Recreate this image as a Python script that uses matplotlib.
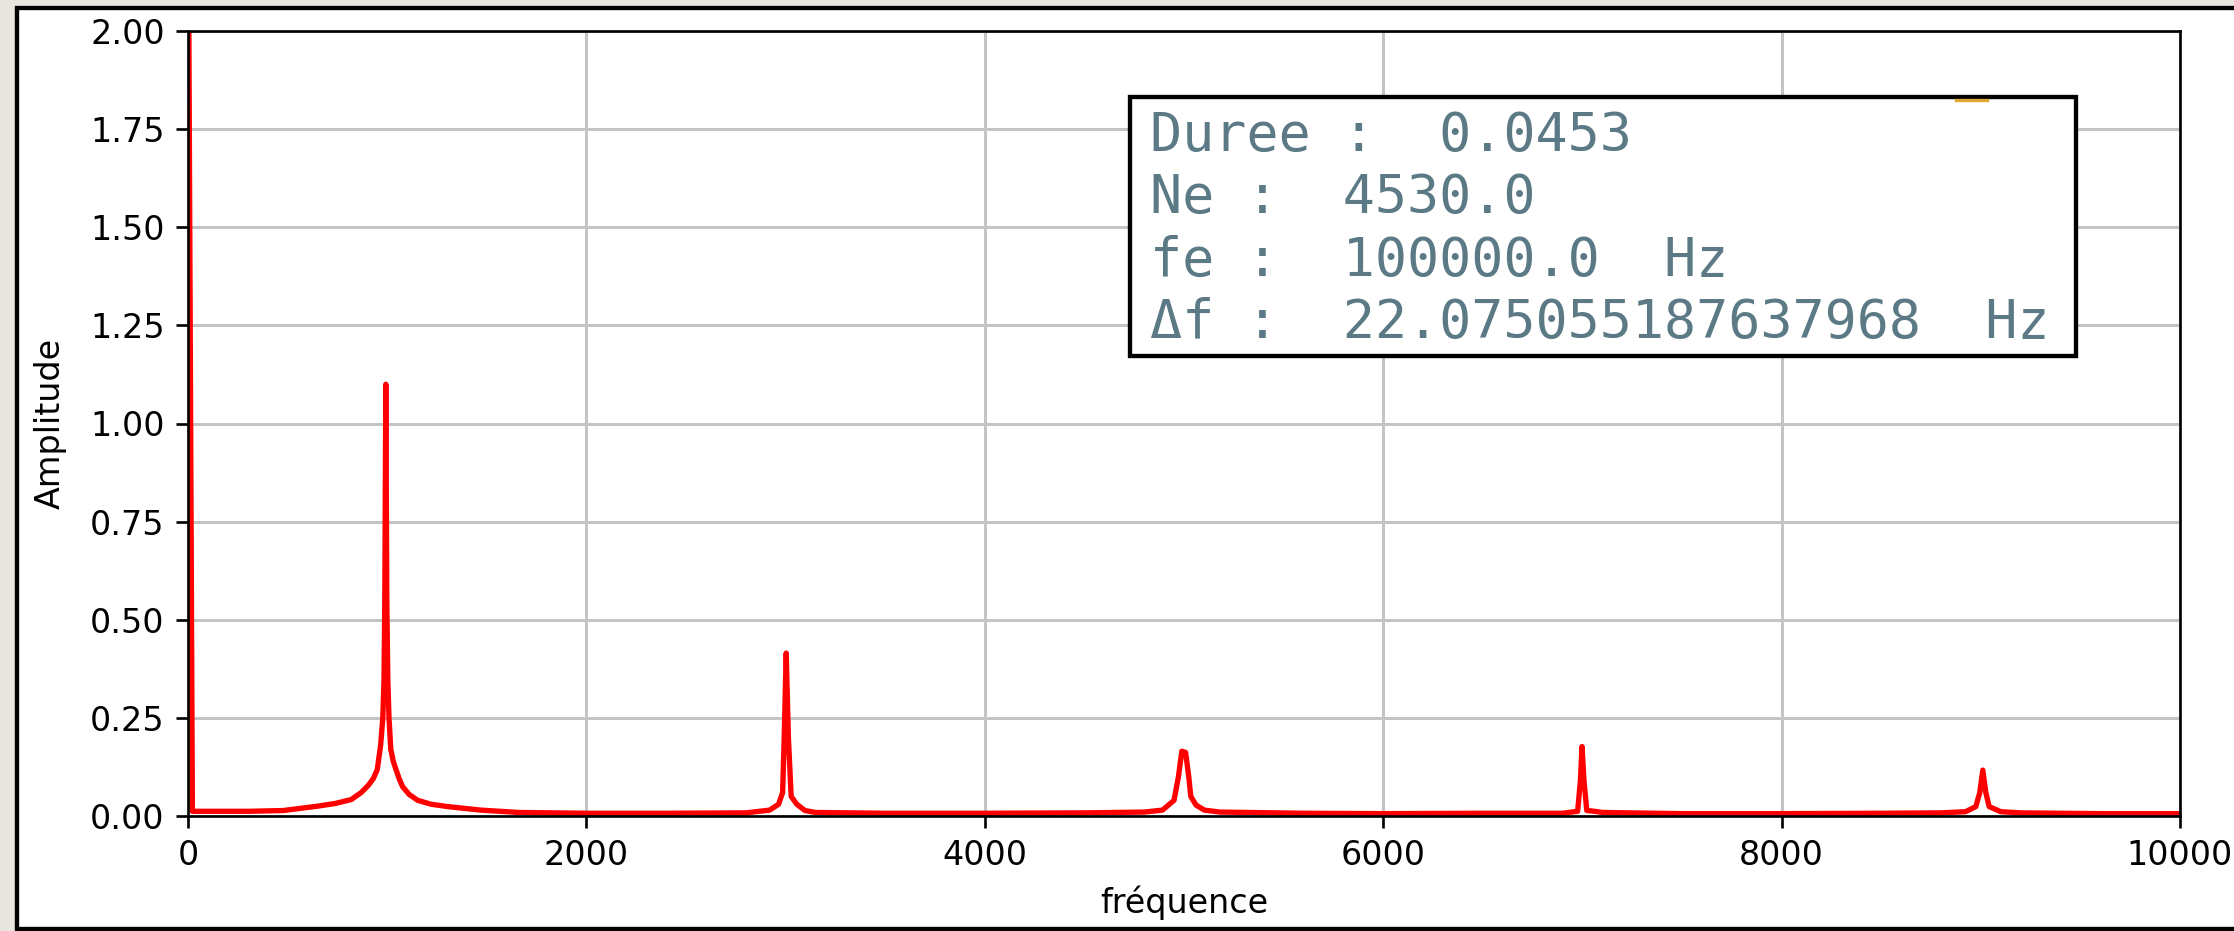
import matplotlib
matplotlib.use('Agg')
import matplotlib.pyplot as plt
from matplotlib.patches import Rectangle
from matplotlib.lines import Line2D

# spectre (Hz, amplitude)
freq = [0, 22, 150, 310, 480, 650, 740, 820, 870, 905, 930, 950, 967, 978, 984, 988,
        993, 998, 1003, 1009, 1018, 1030, 1043, 1060, 1077, 1110, 1153, 1220, 1303, 1470, 1660,
        2000, 2400, 2800, 2920, 2965, 2985, 2993, 3003, 3014, 3028, 3056, 3097, 3150,
        3500, 4000, 4500, 4800, 4892, 4950, 4972, 4989, 5008, 5024, 5034, 5060, 5102, 5181,
        5600, 6000, 6500, 6900, 6976, 6990, 6998, 7008, 7022, 7060, 7100,
        7500, 8000, 8500, 8800, 8924, 8975, 8995, 9010, 9025, 9042, 9100, 9200,
        9600, 10000]
amp = [2.5, 0.012, 0.012, 0.012, 0.014, 0.025, 0.032, 0.042, 0.06, 0.078, 0.095, 0.118, 0.18, 0.25, 0.35, 0.55,
       1.10, 0.55, 0.35, 0.25, 0.17, 0.14, 0.12, 0.095, 0.075, 0.055, 0.04, 0.03, 0.024, 0.015, 0.009,
       0.007, 0.007, 0.008, 0.015, 0.03, 0.06, 0.2, 0.415, 0.2, 0.05, 0.03, 0.014, 0.009,
       0.007, 0.007, 0.008, 0.01, 0.015, 0.04, 0.1, 0.165, 0.162, 0.1, 0.05, 0.028, 0.015, 0.01,
       0.007, 0.006, 0.007, 0.007, 0.012, 0.09, 0.177, 0.09, 0.014, 0.012, 0.009,
       0.006, 0.006, 0.007, 0.008, 0.011, 0.024, 0.06, 0.117, 0.06, 0.024, 0.011, 0.008,
       0.006, 0.006]

xticks = [0, 2000, 4000, 6000, 8000, 10000]
yticks = [0.0, 0.25, 0.5, 0.75, 1.0, 1.25, 1.5, 1.75, 2.0]

info_lines = ['Duree :  0.0453',
              'Ne :  4530.0',
              'fe :  100000.0  Hz',
              'Δf :  22.075055187637968  Hz']

W, H, DPI = 2234, 931, 240
fig = plt.figure(figsize=(W / DPI, H / DPI), dpi=DPI, facecolor='#e9e5df')

# cadre noir de la capture
frame = Rectangle((17 / W, 2 / H), 1.5, 921 / H, transform=fig.transFigure,
                  facecolor='white', edgecolor='black', linewidth=1.3, zorder=-1)
fig.add_artist(frame)

ax = fig.add_axes([188 / W, 115 / H, 1992 / W, 785 / H])
ax.plot(freq, amp, color='#ff0000', linewidth=1.6)
ax.set_xlim(0, 10000)
ax.set_ylim(0, 2)
ax.set_xticks(xticks)
ax.set_yticks(yticks)
ax.grid(True, color='#c4c4c4', linewidth=0.9)
ax.set_xlabel('fréquence', fontsize=10)
ax.set_ylabel('Amplitude', fontsize=10, labelpad=7)
ax.tick_params(labelsize=10)

# boite d'infos
box = Rectangle((1130 / W, 575 / H), 946 / W, 259 / H, transform=fig.transFigure,
                facecolor='white', edgecolor='black', linewidth=1.3, zorder=5)
fig.add_artist(box)
fig.add_artist(Line2D([1956 / W, 1987 / W], [831 / H, 831 / H], transform=fig.transFigure,
                      color='#e0a830', linewidth=1.0, zorder=6))
for i, s in enumerate(info_lines):
    fig.text(1150 / W, (931 - 151 - 62.3 * i) / H, s, family='DejaVu Sans Mono',
             fontsize=16, color='#5b7a85', va='baseline', ha='left', zorder=7)

fig.savefig('out.png', dpi=DPI, facecolor=fig.get_facecolor())
